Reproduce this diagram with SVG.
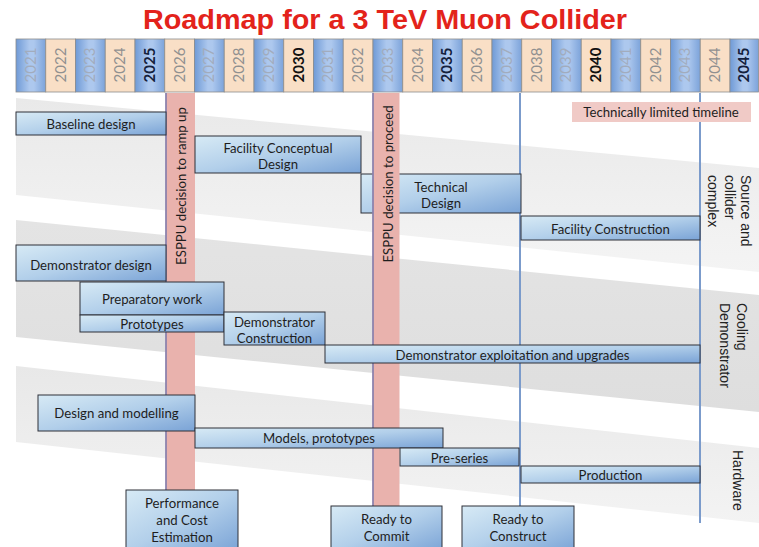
<svg xmlns="http://www.w3.org/2000/svg" width="759" height="547" viewBox="0 0 759 547">
<defs>
<linearGradient id="boxg" x1="0" y1="0" x2="1" y2="1">
<stop offset="0" stop-color="#d7eaf5"/>
<stop offset="0.5" stop-color="#b2cfea"/>
<stop offset="1" stop-color="#7aa3d6"/>
</linearGradient>
<linearGradient id="cellb" x1="0" y1="0" x2="1" y2="0">
<stop offset="0" stop-color="#6f9ad6"/>
<stop offset="0.45" stop-color="#adc8ee"/>
<stop offset="0.6" stop-color="#adc8ee"/>
<stop offset="1" stop-color="#7ca3da"/>
</linearGradient>
<linearGradient id="band1" x1="0" y1="0" x2="0" y2="1">
<stop offset="0" stop-color="#e9e9e9"/>
<stop offset="1" stop-color="#f4f4f4"/>
</linearGradient>
<linearGradient id="band2" x1="0" y1="0" x2="0" y2="1">
<stop offset="0" stop-color="#e4e4e4"/>
<stop offset="1" stop-color="#dedede"/>
</linearGradient>
<linearGradient id="band3" x1="0" y1="0" x2="0" y2="1">
<stop offset="0" stop-color="#e8e8e8"/>
<stop offset="1" stop-color="#f3f3f3"/>
</linearGradient>
</defs>
<style>
.title{font-family:"Liberation Sans",Arial,sans-serif;font-weight:bold;font-size:27px;fill:#e3231b}
.cellb{fill:url(#cellb);stroke:#8c8c8c;stroke-width:0.8}
.cellp{fill:#f9dfc6;stroke:#8c8c8c;stroke-width:0.8}
.yr{font-family:Lato,"Open Sans",sans-serif;font-size:15px;text-anchor:middle}
.yb{fill:#a2acbd}
.yp{fill:#909090}
.ym{fill:#14213d;font-weight:bold}
.yk{fill:#111;font-weight:bold}
.task{fill:url(#boxg);stroke:#2e3138;stroke-width:1}
.t{font-family:Lato,"Open Sans",sans-serif;font-size:13.2px;fill:#1e1e1e;text-anchor:middle}
.bar{fill:#e9b2ad}
.barl{stroke:#7a78ad;stroke-width:1.5}
.vl{stroke:#7b9bcb;stroke-width:2;fill:none}
.side{font-family:"Liberation Sans",Arial,sans-serif;font-size:14px;fill:#222}
</style>
<rect x="0" y="0" width="759" height="547" fill="#ffffff"/>
<g id="bands">
<polygon points="16,98 759,168 759,272 16,195" fill="url(#band1)"/>
<polygon points="16,220 759,295 759,412 16,337" fill="url(#band2)"/>
<polygon points="16,366 759,448 759,523 16,442" fill="url(#band3)"/>
</g>
<text class="title" x="385" y="28.5" text-anchor="middle" textLength="484" lengthAdjust="spacingAndGlyphs">Roadmap for a 3 TeV Muon Collider</text>
<g id="header">
<rect class="cellb" x="16" y="39" width="29.75" height="53"/>
<rect class="cellp" x="45.75" y="39" width="29.75" height="53"/>
<rect class="cellb" x="75.5" y="39" width="29.75" height="53"/>
<rect class="cellp" x="105.25" y="39" width="29.75" height="53"/>
<rect class="cellb" x="135" y="39" width="29.75" height="53"/>
<rect class="cellp" x="164.75" y="39" width="29.75" height="53"/>
<rect class="cellb" x="194.5" y="39" width="29.75" height="53"/>
<rect class="cellp" x="224.25" y="39" width="29.75" height="53"/>
<rect class="cellb" x="254" y="39" width="29.75" height="53"/>
<rect class="cellp" x="283.75" y="39" width="29.75" height="53"/>
<rect class="cellb" x="313.5" y="39" width="29.75" height="53"/>
<rect class="cellp" x="343.25" y="39" width="29.75" height="53"/>
<rect class="cellb" x="373" y="39" width="29.75" height="53"/>
<rect class="cellp" x="402.75" y="39" width="29.75" height="53"/>
<rect class="cellb" x="432.5" y="39" width="29.75" height="53"/>
<rect class="cellp" x="462.25" y="39" width="29.75" height="53"/>
<rect class="cellb" x="492" y="39" width="29.75" height="53"/>
<rect class="cellp" x="521.75" y="39" width="29.75" height="53"/>
<rect class="cellb" x="551.5" y="39" width="29.75" height="53"/>
<rect class="cellp" x="581.25" y="39" width="29.75" height="53"/>
<rect class="cellb" x="611" y="39" width="29.75" height="53"/>
<rect class="cellp" x="640.75" y="39" width="29.75" height="53"/>
<rect class="cellb" x="670.5" y="39" width="29.75" height="53"/>
<rect class="cellp" x="700.25" y="39" width="29.75" height="53"/>
<rect class="cellb" x="730" y="39" width="28.5" height="53"/>
<text class="yr yb" transform="translate(30.9,65) rotate(-90)" y="5">2021</text>
<text class="yr yp" transform="translate(60.6,65) rotate(-90)" y="5">2022</text>
<text class="yr yb" transform="translate(90.4,65) rotate(-90)" y="5">2023</text>
<text class="yr yp" transform="translate(120.1,65) rotate(-90)" y="5">2024</text>
<text class="yr ym" transform="translate(149.9,65) rotate(-90)" y="5">2025</text>
<text class="yr yp" transform="translate(179.6,65) rotate(-90)" y="5">2026</text>
<text class="yr yb" transform="translate(209.4,65) rotate(-90)" y="5">2027</text>
<text class="yr yp" transform="translate(239.1,65) rotate(-90)" y="5">2028</text>
<text class="yr yb" transform="translate(268.9,65) rotate(-90)" y="5">2029</text>
<text class="yr yk" transform="translate(298.6,65) rotate(-90)" y="5">2030</text>
<text class="yr yb" transform="translate(328.4,65) rotate(-90)" y="5">2031</text>
<text class="yr yp" transform="translate(358.1,65) rotate(-90)" y="5">2032</text>
<text class="yr yb" transform="translate(387.9,65) rotate(-90)" y="5">2033</text>
<text class="yr yp" transform="translate(417.6,65) rotate(-90)" y="5">2034</text>
<text class="yr ym" transform="translate(447.4,65) rotate(-90)" y="5">2035</text>
<text class="yr yp" transform="translate(477.1,65) rotate(-90)" y="5">2036</text>
<text class="yr yb" transform="translate(506.9,65) rotate(-90)" y="5">2037</text>
<text class="yr yp" transform="translate(536.6,65) rotate(-90)" y="5">2038</text>
<text class="yr yb" transform="translate(566.4,65) rotate(-90)" y="5">2039</text>
<text class="yr yk" transform="translate(596.1,65) rotate(-90)" y="5">2040</text>
<text class="yr yb" transform="translate(625.9,65) rotate(-90)" y="5">2041</text>
<text class="yr yp" transform="translate(655.6,65) rotate(-90)" y="5">2042</text>
<text class="yr yb" transform="translate(685.4,65) rotate(-90)" y="5">2043</text>
<text class="yr yp" transform="translate(715.1,65) rotate(-90)" y="5">2044</text>
<text class="yr ym" transform="translate(744.3,65) rotate(-90)" y="5">2045</text>
</g>
<g id="connectors">
<line class="vl" x1="520" y1="93" x2="520" y2="506"/>
<line class="vl" x1="700" y1="93" x2="700" y2="523"/>
</g>
<g id="technical-design">
<rect class="task" x="361" y="174" width="160" height="39"/>
<text class="t" x="441" y="191.5">Technical</text>
<text class="t" x="441" y="208">Design</text>
</g>
<g id="esppu-ramp-up">
<rect class="bar" x="165.5" y="93" width="29.5" height="397"/>
<line class="barl" x1="166" y1="93" x2="166" y2="490"/>
<text class="t" transform="translate(185.5,186) rotate(-90)">ESPPU decision to ramp up</text>
</g>
<g id="esppu-proceed">
<rect class="bar" x="372.5" y="93" width="27" height="413"/>
<line class="barl" x1="373" y1="93" x2="373" y2="506" stroke-width="1"/>
<text class="t" transform="translate(393,184) rotate(-90)">ESPPU decision to proceed</text>
</g>
<g id="technically-limited">
<rect x="572" y="102" width="179" height="20" fill="#f0cac6"/>
<text class="t" x="661" y="117" fill="#333">Technically limited timeline</text>
</g>
<g id="baseline-design">
<rect class="task" x="16" y="112" width="150" height="23"/>
<text class="t" x="91" y="129">Baseline design</text>
</g>
<g id="facility-conceptual-design">
<rect class="task" x="195" y="136" width="166" height="37"/>
<text class="t" x="278" y="153">Facility Conceptual</text>
<text class="t" x="278" y="169">Design</text>
</g>
<g id="facility-construction">
<rect class="task" x="521" y="216" width="179" height="24"/>
<text class="t" x="610.5" y="233.5">Facility Construction</text>
</g>
<g id="demonstrator-design">
<rect class="task" x="16" y="245" width="150" height="36"/>
<text class="t" x="91" y="270">Demonstrator design</text>
</g>
<g id="preparatory-work">
<rect class="task" x="80" y="282" width="144" height="33"/>
<text class="t" x="152" y="304">Preparatory work</text>
</g>
<g id="prototypes">
<rect class="task" x="80" y="315" width="144" height="17"/>
<text class="t" x="152" y="329">Prototypes</text>
</g>
<g id="demonstrator-construction">
<rect class="task" x="224" y="312" width="101" height="33"/>
<text class="t" x="274.5" y="327">Demonstrator</text>
<text class="t" x="274.5" y="343">Construction</text>
</g>
<g id="demonstrator-exploitation">
<rect class="task" x="325" y="345" width="375" height="18"/>
<text class="t" x="512.5" y="359.5">Demonstrator exploitation and upgrades</text>
</g>
<g id="design-modelling">
<rect class="task" x="38" y="395" width="157" height="36"/>
<text class="t" x="116.5" y="418">Design and modelling</text>
</g>
<g id="models-prototypes">
<rect class="task" x="195" y="428" width="248" height="20"/>
<text class="t" x="319" y="443">Models, prototypes</text>
</g>
<g id="pre-series">
<rect class="task" x="400" y="448" width="119" height="18"/>
<text class="t" x="459.5" y="462.5">Pre-series</text>
</g>
<g id="production">
<rect class="task" x="521" y="466" width="179" height="17"/>
<text class="t" x="610.5" y="480">Production</text>
</g>
<g id="performance-cost">
<rect class="task" x="126" y="490" width="112" height="62"/>
<text class="t" x="182" y="508">Performance</text>
<text class="t" x="182" y="525">and Cost</text>
<text class="t" x="182" y="542">Estimation</text>
</g>
<g id="ready-commit">
<rect class="task" x="331" y="506" width="111" height="46"/>
<text class="t" x="386.5" y="524">Ready to</text>
<text class="t" x="386.5" y="541">Commit</text>
</g>
<g id="ready-construct">
<rect class="task" x="462" y="506" width="112" height="46"/>
<text class="t" x="518" y="524">Ready to</text>
<text class="t" x="518" y="541">Construct</text>
</g>
<g id="label-source">
<text class="side" transform="translate(741,175) rotate(90)"><tspan x="0" y="0">Source and</tspan><tspan x="0" dy="16.5">collider</tspan><tspan x="0" dy="16.5">complex</tspan></text>
</g>
<g id="label-cooling">
<text class="side" transform="translate(737,303) rotate(90)"><tspan x="0" y="0">Cooling</tspan><tspan x="0" dy="17">Demonstrator</tspan></text>
</g>
<g id="label-hardware">
<text class="side" transform="translate(733,450) rotate(90)">Hardware</text>
</g>
</svg>
